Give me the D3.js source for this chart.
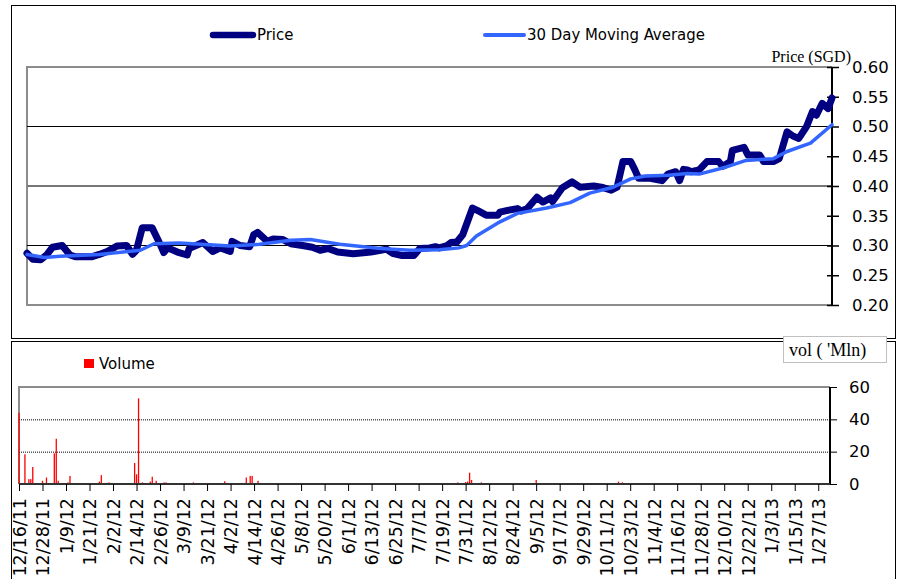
<!DOCTYPE html>
<html>
<head>
<meta charset="utf-8">
<script src="https://cdn.jsdelivr.net/npm/d3@7"></script>
<style>
  body { margin: 0; background: #fff; }
  svg { display: block; }
</style>
</head>
<body>
<svg width="904" height="579"></svg>
<script>
// price (SGD)
var priceDates = ["12/16/11","12/19/11","12/23/11","12/26/11","12/29/11","1/3/12","1/7/12","1/10/12","1/18/12","1/22/12",
  "1/26/12","1/31/12","2/5/12","2/8/12","2/10/12","2/13/12","2/18/12","2/22/12","2/24/12","2/26/12",
  "3/2/12","3/7/12","3/8/12","3/15/12","3/20/12","3/24/12","3/29/12","3/30/12","4/3/12","4/8/12",
  "4/10/12","4/12/12","4/17/12","4/20/12","4/25/12","4/29/12","5/5/12","5/10/12","5/14/12","5/18/12",
  "5/23/12","5/31/12","6/9/12","6/14/12","6/17/12","6/20/12","6/25/12","7/1/12","7/4/12","7/9/12",
  "7/12/12","7/14/12","7/18/12","7/20/12","7/23/12","7/26/12","7/31/12","8/3/12","8/7/12","8/13/12",
  "8/14/12","8/18/12","8/23/12","8/25/12","8/28/12","9/2/12","9/5/12","9/9/12","9/10/12","9/15/12",
  "9/20/12","9/24/12","10/1/12","10/5/12","10/10/12","10/13/12","10/16/12","10/20/12","10/22/12","10/24/12",
  "10/30/12","11/5/12","11/8/12","11/12/12","11/14/12","11/16/12","11/18/12","11/20/12","11/24/12","11/28/12",
  "12/4/12","12/6/12","12/10/12","12/11/12","12/17/12","12/19/12","12/25/12","12/27/12","1/1/13","1/4/13",
  "1/8/13","1/11/13","1/14/13","1/18/13","1/21/13","1/23/13","1/26/13","1/29/13","1/31/13"];
var priceValues = [0.287,0.277,0.276,0.284,0.297,0.300,0.284,0.281,0.281,0.285,
  0.290,0.299,0.300,0.285,0.292,0.330,0.330,0.303,0.288,0.296,
  0.289,0.284,0.295,0.305,0.290,0.296,0.290,0.307,0.300,0.298,
  0.318,0.322,0.307,0.311,0.310,0.303,0.300,0.297,0.292,0.295,
  0.289,0.286,0.289,0.292,0.294,0.287,0.283,0.283,0.295,0.296,
  0.298,0.296,0.300,0.305,0.306,0.318,0.363,0.358,0.351,0.351,
  0.356,0.359,0.362,0.358,0.362,0.381,0.373,0.380,0.374,0.397,
  0.407,0.398,0.400,0.398,0.393,0.398,0.441,0.441,0.428,0.413,
  0.413,0.409,0.420,0.424,0.409,0.428,0.427,0.424,0.427,0.441,
  0.441,0.433,0.441,0.460,0.465,0.452,0.452,0.441,0.441,0.446,
  0.491,0.484,0.480,0.500,0.525,0.519,0.539,0.530,0.548];

// 30 day moving average
var maDates = ["12/16/11","12/25/11","1/2/12","1/22/12","2/12/12","2/19/12","3/3/12","3/14/12","3/29/12","4/13/12",
  "4/29/12","5/9/12","5/24/12","6/14/12","6/29/12","7/14/12","7/24/12","7/28/12","8/2/12","8/13/12",
  "8/23/12","9/7/12","9/19/12","9/29/12","10/11/12","10/20/12","10/28/12","11/8/12","11/18/12","11/24/12",
  "12/8/12","12/18/12","1/1/13","1/8/13","1/20/13","1/31/13"];
var maValues = [0.285,0.280,0.282,0.285,0.292,0.303,0.304,0.302,0.299,0.302,
  0.309,0.310,0.302,0.295,0.292,0.293,0.296,0.300,0.316,0.338,
  0.354,0.363,0.372,0.388,0.398,0.412,0.417,0.418,0.421,0.420,
  0.432,0.443,0.446,0.458,0.472,0.503];

// volume ('Mln)
var volDates = ["12/16/11","12/19/11","12/21/11","12/22/11","12/23/11","12/28/11","12/30/11","1/3/12","1/4/12","1/5/12",
  "1/10/12","1/11/12","1/17/12","1/21/12","1/26/12","1/27/12","1/31/12","2/13/12","2/14/12","2/15/12",
  "2/17/12","2/21/12","2/22/12","2/24/12","2/28/12","2/29/12","3/7/12","3/14/12","3/22/12","3/30/12",
  "4/10/12","4/12/12","4/13/12","4/16/12","4/19/12","5/7/12","5/28/12","6/17/12","7/6/12","7/18/12",
  "7/27/12","7/31/12","8/1/12","8/2/12","8/3/12","8/8/12","8/14/12","9/5/12","9/17/12","10/17/12",
  "10/19/12","10/20/12","11/28/12","12/28/12","1/23/13"];
var volValues = [44,18.4,3,3,10.5,2,4,19,28,2,
  1,5,0.5,0.4,1.5,5.5,1,13,6,53,
  1,1.5,4.5,2,1,1,0.5,1,0.4,1.7,
  4,5,5,2,0.5,0.3,0.3,0.3,0.6,0.4,
  1,1.2,1.5,7,2.5,1,0.5,2.5,0.3,1.5,
  1,0.6,0.3,0.3,0.4];

var xTickLabels = ["12/16/11","12/28/11","1/9/12","1/21/12","2/2/12","2/14/12","2/26/12","3/9/12","3/21/12","4/2/12",
  "4/14/12","4/26/12","5/8/12","5/20/12","6/1/12","6/13/12","6/25/12","7/7/12","7/19/12","7/31/12",
  "8/12/12","8/24/12","9/5/12","9/17/12","9/29/12","10/11/12","10/23/12","11/4/12","11/16/12","11/28/12",
  "12/10/12","12/22/12","1/3/13","1/15/13","1/27/13"];
var priceTicks = [0.20,0.25,0.30,0.35,0.40,0.45,0.50,0.55,0.60];
var priceGrid = [0.30,0.40,0.50];
var volTicks = [0,20,40,60];
var volGrid = [20,40];

var parse = d3.timeParse("%m/%d/%y");
var priceData = priceDates.map(function(d, i) { return {date: parse(d), value: priceValues[i]}; });
var maData = maDates.map(function(d, i) { return {date: parse(d), value: maValues[i]}; });
var volData = volDates.map(function(d, i) { return {date: parse(d), value: volValues[i]}; });

var svg = d3.select("svg");
var sans = "'DejaVu Sans', Verdana, sans-serif";
var narrow = "'Liberation Sans Narrow', 'DejaVu Sans Condensed', 'Roboto', sans-serif";
var serif = "'Liberation Serif', 'Times New Roman', serif";

// outer panels
svg.append("rect").attr("x", 11.5).attr("y", 5.5).attr("width", 884).attr("height", 333)
  .attr("fill", "none").attr("stroke", "#000").attr("stroke-width", 1);
svg.append("rect").attr("x", 11.5).attr("y", 341.5).attr("width", 884).attr("height", 250)
  .attr("fill", "none").attr("stroke", "#000").attr("stroke-width", 1);

// ---------- price chart ----------
var p = {left: 27, right: 832, top: 67, bottom: 305};
var x = d3.scaleTime().domain([parse("12/16/11"), parse("1/31/13")]).range([p.left, p.right]);
var y = d3.scaleLinear().domain([0.20, 0.60]).range([p.bottom, p.top]);

var gp = svg.append("g");
gp.append("path")
  .attr("d", "M" + p.right + "," + p.top + "H" + p.left + "V" + p.bottom + "H" + p.right)
  .attr("fill", "none").attr("stroke", "#8c8c8c").attr("stroke-width", 2);

gp.selectAll(".pgrid").data(priceGrid).enter().append("line")
  .attr("x1", p.left).attr("x2", p.right)
  .attr("y1", function(d) { return y(d); }).attr("y2", function(d) { return y(d); })
  .attr("stroke", function(d) { return d === 0.40 ? "#777" : "#000"; })
  .attr("stroke-width", function(d) { return d === 0.40 ? 1.8 : 1; });

var yAxis = gp.append("g")
  .attr("transform", "translate(" + p.right + ",0)")
  .call(d3.axisRight(y).tickValues(priceTicks).tickFormat(d3.format(".2f")).tickSize(7).tickPadding(13));
yAxis.select(".domain").attr("stroke", "#000").attr("stroke-width", 2).attr("d", "M0," + p.top + "V" + p.bottom);
yAxis.selectAll(".tick line").attr("x1", -5).attr("stroke-width", 1.5);
yAxis.selectAll("text").attr("font-family", sans).attr("font-size", 16.5).attr("fill", "#000");

gp.append("text").attr("x", 851).attr("y", 62).attr("text-anchor", "end")
  .attr("font-family", serif).attr("font-size", 16).text("Price (SGD)");

var line = d3.line()
  .x(function(d) { return x(d.date); })
  .y(function(d) { return y(d.value); });

gp.append("path").datum(priceData)
  .attr("fill", "none").attr("stroke", "#000080")
  .attr("stroke-width", 7).attr("stroke-linejoin", "round").attr("stroke-linecap", "round")
  .attr("d", line);
gp.append("path").datum(maData)
  .attr("fill", "none").attr("stroke", "#3366ff")
  .attr("stroke-width", 3.5).attr("stroke-linejoin", "round").attr("stroke-linecap", "round")
  .attr("d", line);

// legend
gp.append("line").attr("x1", 213).attr("x2", 253).attr("y1", 35).attr("y2", 35)
  .attr("stroke", "#000080").attr("stroke-width", 6.5).attr("stroke-linecap", "round");
gp.append("text").attr("x", 257).attr("y", 40).attr("font-family", narrow).attr("font-size", 16.6).text("Price");
gp.append("line").attr("x1", 485).attr("x2", 524).attr("y1", 35).attr("y2", 35)
  .attr("stroke", "#3366ff").attr("stroke-width", 4).attr("stroke-linecap", "round");
gp.append("text").attr("x", 527).attr("y", 40).attr("font-family", narrow).attr("font-size", 16.6).text("30 Day Moving Average");

// ---------- volume chart ----------
var v = {left: 19, right: 830, top: 387, bottom: 484};
var xv = d3.scaleTime().domain([parse("12/16/11"), parse("2/2/13")]).range([v.left, v.right]);
var yv = d3.scaleLinear().domain([0, 60]).range([v.bottom, v.top]);

var gv = svg.append("g");
gv.append("path")
  .attr("d", "M" + v.right + "," + v.top + "H" + v.left + "V" + v.bottom)
  .attr("fill", "none").attr("stroke", "#8c8c8c").attr("stroke-width", 2);

gv.selectAll(".vgrid").data(volGrid).enter().append("line")
  .attr("x1", v.left).attr("x2", v.right)
  .attr("y1", function(d) { return yv(d) + 0.5; }).attr("y2", function(d) { return yv(d) + 0.5; })
  .attr("stroke", "#000").attr("stroke-width", 1).attr("stroke-dasharray", "1,1");

gv.selectAll(".bar").data(volData).enter().append("rect")
  .attr("x", function(d) { return xv(d.date) - 0.6; })
  .attr("width", 1.3)
  .attr("y", function(d) { return yv(d.value); })
  .attr("height", function(d) { return v.bottom - yv(d.value); })
  .attr("fill", "#ff0000");

var yvAxis = gv.append("g")
  .attr("transform", "translate(" + v.right + ",0)")
  .call(d3.axisRight(yv).tickValues(volTicks).tickSize(7).tickPadding(12));
yvAxis.select(".domain").attr("stroke", "#000").attr("stroke-width", 2).attr("d", "M0," + v.top + "V" + v.bottom);
yvAxis.selectAll("text").attr("font-family", sans).attr("font-size", 16.5).attr("fill", "#000");

var xvAxis = gv.append("g")
  .attr("transform", "translate(0," + v.bottom + ")")
  .call(d3.axisBottom(xv).tickValues(xTickLabels.map(parse)).tickFormat(d3.timeFormat("%-m/%-d/%y")).tickSize(7));
xvAxis.select(".domain").attr("stroke", "#333").attr("stroke-width", 2).attr("d", "M" + v.left + ",0H" + v.right);
xvAxis.selectAll("text")
  .attr("font-family", sans).attr("font-size", 17.5).attr("fill", "#000")
  .attr("text-anchor", "end")
  .attr("transform", "rotate(-90)")
  .attr("x", -14).attr("y", 0).attr("dy", "0.36em");

// volume legend and unit box
gv.append("rect").attr("x", 84).attr("y", 359).attr("width", 10).attr("height", 9).attr("fill", "#ff0000");
gv.append("text").attr("x", 99).attr("y", 369).attr("font-family", sans).attr("font-size", 15).text("Volume");
gv.append("rect").attr("x", 783.5).attr("y", 336.5).attr("width", 103).attr("height", 26)
  .attr("fill", "#fff").attr("stroke", "#c0c0c0").attr("stroke-width", 1);
gv.append("text").attr("x", 789).attr("y", 356).attr("font-family", serif).attr("font-size", 18).text("vol ( 'Mln)");
</script>
</body>
</html>
